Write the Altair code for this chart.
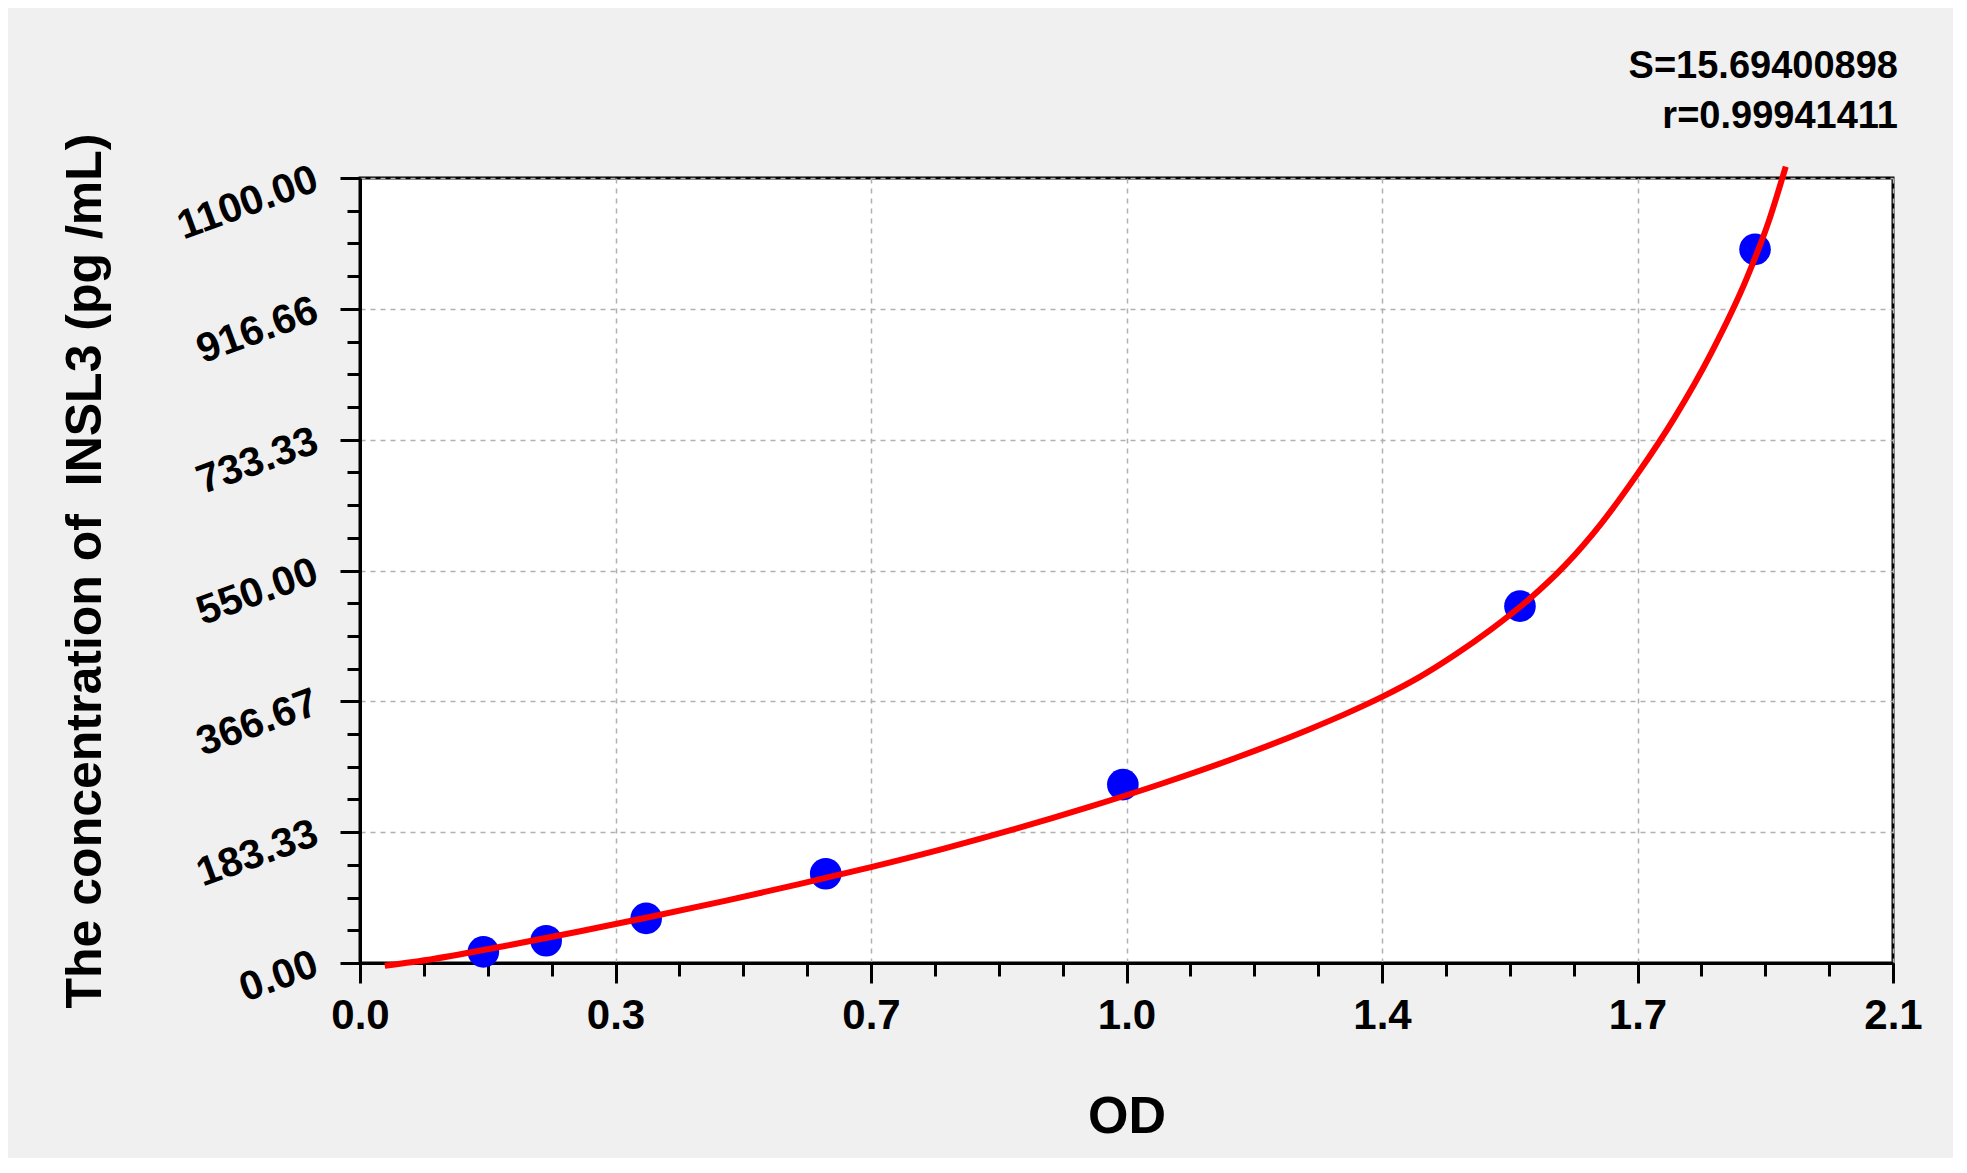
import altair as alt
import pandas as pd

# ---- data ----
od_points = [0.169, 0.255, 0.392, 0.638, 1.045, 1.589, 1.911]
conc_points = [15.6, 31.25, 62.5, 125.0, 250.0, 500.0, 1000.0]

curve_od = [0.034, 0.1, 0.2, 0.3, 0.4, 0.5, 0.6, 0.7, 0.8, 0.9, 1.0, 1.1, 1.2,
            1.3, 1.35, 1.4, 1.45, 1.5, 1.55, 1.6, 1.65, 1.7, 1.75, 1.8, 1.85,
            1.9, 1.93, 1.953]
curve_conc = [-4, 5.6, 24.1, 44.1, 65.1, 87.1, 110.1, 134.4, 160.4, 188.6, 219.1,
              251.9, 287.6, 327.3, 349.1, 372.9, 399.9, 431.9, 467.9, 508.4,
              556.4, 615.4, 685.4, 762.9, 852.9, 960.4, 1039.9, 1115.8]

x_tick_labels = ["0.0", "0.3", "0.7", "1.0", "1.4", "1.7", "2.1"]
y_tick_labels = ["0.00", "183.33", "366.67", "550.00", "733.33", "916.66", "1100.00"]
stat_s = "S=15.69400898"
stat_r = "r=0.99941411"
x_title = "OD"
y_title = "The concentration of\u00a0 INSL3 (pg /mL)"

X_MAX = 2.1
Y_MAX = 1100.0
N_MAJOR = 6
N_SUB = 4

FONT = "Liberation Sans"
W, H = 1533, 785

x_major = [i * X_MAX / N_MAJOR for i in range(N_MAJOR + 1)]
x_minor = [i * X_MAX / (N_MAJOR * N_SUB) for i in range(N_MAJOR * N_SUB + 1)]
y_major = [i * Y_MAX / N_MAJOR for i in range(N_MAJOR + 1)]
y_minor = [i * Y_MAX / (N_MAJOR * N_SUB) for i in range(N_MAJOR * N_SUB + 1)]

x_step = X_MAX / N_MAJOR
y_step = Y_MAX / N_MAJOR
x_label_expr = "[" + ",".join("'%s'" % s for s in x_tick_labels) + "][round(datum.value/%r)]" % x_step
y_label_expr = "[" + ",".join("'%s'" % s for s in y_tick_labels) + "][round(datum.value/%r)]" % y_step

pts_df = pd.DataFrame({"od": od_points, "conc": conc_points})
curve_df = pd.DataFrame({"od": curve_od, "conc": curve_conc})

scale_x = alt.Scale(domain=[0, X_MAX], nice=False, zero=False)
scale_y = alt.Scale(domain=[0, Y_MAX], nice=False, zero=False)

main_x_axis = alt.Axis(
    orient="bottom",
    values=x_major, labelExpr=x_label_expr, labelOverlap=False, labelFlush=False,
    labelFont=FONT, labelFontSize=42, labelFontWeight="bold", labelColor="black",
    labelPadding=12,
    tickSize=20, tickWidth=3, tickColor="black",
    domain=True, domainColor="black", domainWidth=3,
    grid=True, gridColor="#b0b0b0", gridDash=[5, 5], gridWidth=1.5,
    title=x_title, titleFont=FONT, titleFontSize=52, titleFontWeight="bold",
    titleColor="black", titleX=W / 2, titleY=169, titleAlign="center",
    titleBaseline="alphabetic",
)
main_y_axis = alt.Axis(
    orient="left",
    values=y_major, labelExpr=y_label_expr, labelOverlap=False, labelFlush=False,
    labelFont=FONT, labelFontSize=41, labelFontWeight="bold", labelColor="black",
    labelAngle=340, labelAlign="right", labelBaseline="middle", labelPadding=24,
    tickSize=20, tickWidth=3, tickColor="black",
    domain=True, domainColor="black", domainWidth=3,
    grid=True, gridColor="#b0b0b0", gridDash=[5, 5], gridWidth=1.5,
    title=y_title, titleFont=FONT, titleFontSize=50, titleFontWeight="bold",
    titleColor="black", titleAngle=270, titleX=-250, titleY=H / 2,
    titleAlign="center", titleBaseline="bottom",
)
minor_x_axis = alt.Axis(
    orient="bottom",
    values=x_minor, labels=False, domain=False, grid=False, title=None,
    tickSize=13, tickWidth=3, tickColor="black",
)
minor_y_axis = alt.Axis(
    orient="left",
    values=y_minor, labels=False, domain=False, grid=False, title=None,
    tickSize=13, tickWidth=3, tickColor="black",
)

points = alt.Chart(pts_df).mark_circle(size=1000, color="#0000ff", opacity=1).encode(
    x=alt.X("od:Q", scale=scale_x, axis=main_x_axis),
    y=alt.Y("conc:Q", scale=scale_y, axis=main_y_axis),
)
curve = alt.Chart(curve_df).mark_line(
    color="#ff0000", strokeWidth=6, clip=False, interpolate="monotone"
).encode(
    x=alt.X("od:Q", scale=scale_x, axis=minor_x_axis),
    y=alt.Y("conc:Q", scale=scale_y, axis=minor_y_axis),
)

chart = (
    alt.layer(points, curve)
    .resolve_axis(x="independent", y="independent")
    .properties(
        width=W,
        height=H,
        title=alt.TitleParams(
            text=stat_s, subtitle=stat_r, anchor="end", frame="group",
            font=FONT, subtitleFont=FONT, fontSize=38, subtitleFontSize=38,
            fontWeight="bold", subtitleFontWeight="bold",
            color="black", subtitleColor="black",
            offset=-3, subtitlePadding=12, dx=5,
        ),
        autosize=alt.AutoSizeParams(type="none"),
        padding={"left": 352, "top": 170, "right": 60, "bottom": 195},
        background="#f0f0f0",
    )
    .configure_view(fill="white", stroke="black", strokeWidth=3)
)

chart.save("out.html", embed_options={"renderer": "svg", "actions": False})
